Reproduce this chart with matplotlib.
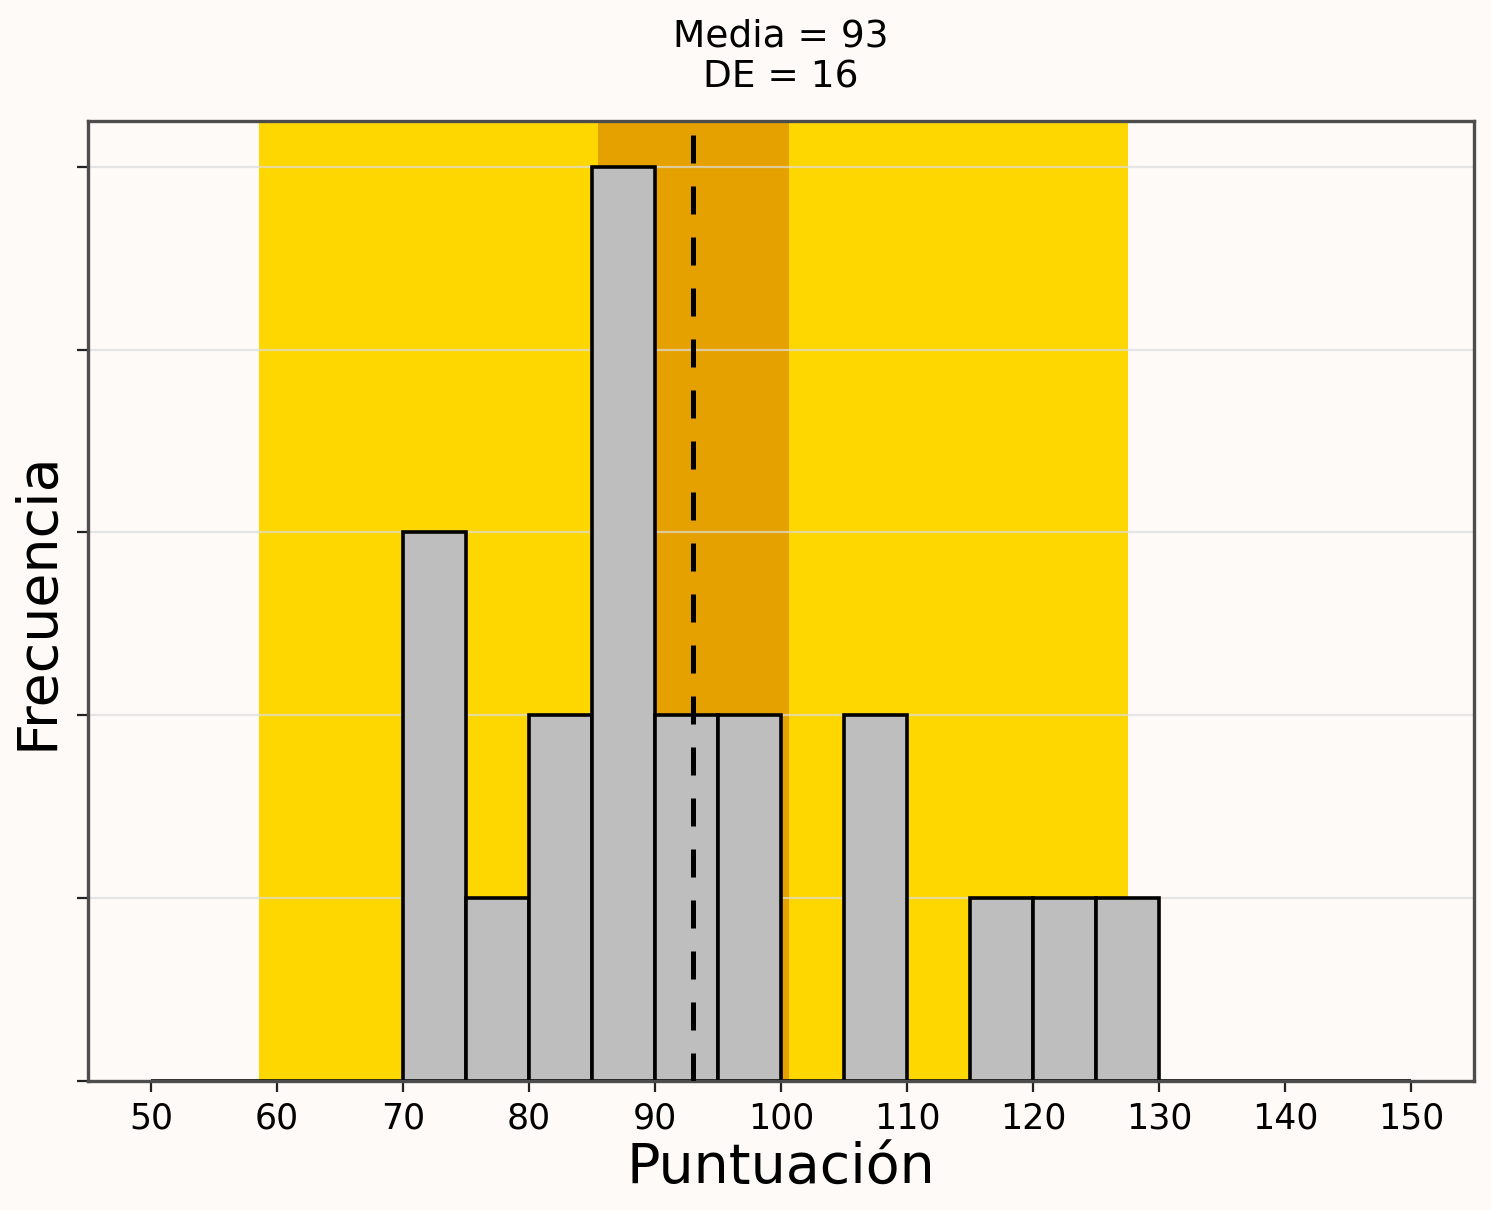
import numpy as np
import matplotlib
matplotlib.use("Agg")
from matplotlib import pyplot as plt

# bin edges and counts
bin_edges = list(range(50, 155, 5))
counts = [0, 0, 0, 0, 3, 1, 2, 5, 2, 2, 0, 2, 0, 1, 1, 1, 0, 0, 0, 0]

media = 93.05
de_text = 16
media_text = 93
outer_band = [58.55, 127.5]
inner_band = [85.45, 100.6]

bg = '#fdfaf8'

fig = plt.figure(figsize=(7.455, 6.05), dpi=200, facecolor=bg)
ax = fig.add_axes([0.059, 0.1066, 0.9297, 0.7934], facecolor=bg)

ax.axvspan(outer_band[0], outer_band[1], color='#ffd700', lw=0, zorder=0)
ax.axvspan(inner_band[0], inner_band[1], color='#e5a100', lw=0, zorder=0.5)

ax.grid(axis='y', color='#dddddd', alpha=0.7, lw=0.8, zorder=1)
ax.grid(axis='x', visible=False)

lefts = np.array(bin_edges[:-1])
ax.bar(lefts, counts, width=5, align='edge', color='#bebebe',
       edgecolor='black', linewidth=1.3, zorder=2)
ax.axvline(media, color='black', ls=(0, (5.6, 4.6)), lw=1.8, zorder=3)

ax.set_xlim(45, 155)
ax.set_ylim(0, 5.25)
ax.set_xticks(range(50, 151, 10))
ax.set_yticks(range(0, 6))
ax.set_yticklabels([])
ax.tick_params(axis='both', labelsize=12.5, length=4, color='#222222')

for s in ax.spines.values():
    s.set_color('#4d4d4d')
    s.set_linewidth(1.2)

ax.set_xlabel('Puntuación', fontsize=20, labelpad=2)
ax.set_ylabel('Frecuencia', fontsize=20, labelpad=1)
ax.set_title('Media = %d\nDE = %d' % (media_text, de_text), fontsize=13.5, pad=12)

fig.savefig('out.png', dpi=200, facecolor=bg)
